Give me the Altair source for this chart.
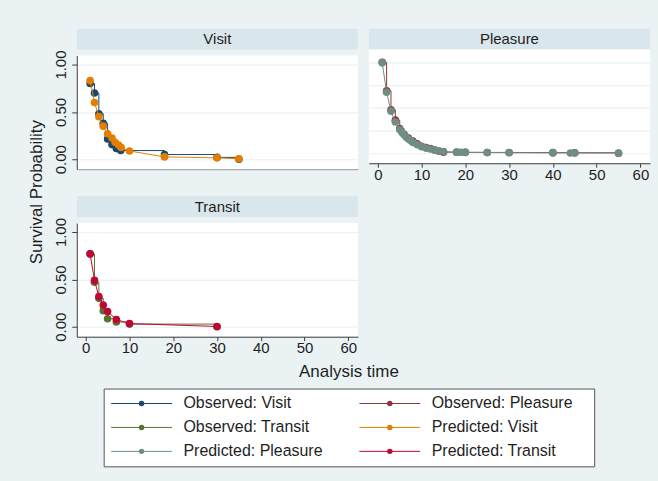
import altair as alt
import pandas as pd

# Survival curves by trip purpose: Kaplan-Meier (observed) vs model (predicted)
visit_obs_t = [1, 2, 3, 4, 5, 6, 7, 8, 18, 30, 35]
visit_obs_s = [0.80, 0.70, 0.48, 0.38, 0.215, 0.155, 0.115, 0.092, 0.05, 0.02, 0.0]
visit_pred_t = [1, 2, 3, 4, 5, 6, 6.7, 7.5, 8.1, 10, 18, 30, 35]
visit_pred_s = [0.83, 0.60, 0.45, 0.35, 0.27, 0.225, 0.18, 0.15, 0.125, 0.088, 0.025, 0.015, 0.005]

pleasure_obs_t = [1, 2, 3, 4, 5, 6, 7, 8, 9, 10, 11, 12, 13, 14, 15, 18, 20, 25, 30, 40, 45, 55]
pleasure_obs_s = [0.96, 0.66, 0.46, 0.35, 0.26, 0.20, 0.16, 0.13, 0.10, 0.075, 0.06, 0.05,
                  0.035, 0.022, 0.012, 0.011, 0.01, 0.009, 0.008, 0.007, 0.006, 0.0]
pleasure_pred_t = [1, 2, 3, 4, 5, 5.5, 6, 6.5, 7, 7.5, 8, 9, 10, 11, 12, 13, 14, 15,
                   18, 19, 20, 25, 30, 40, 44, 45, 55]
pleasure_pred_s = [0.955, 0.645, 0.445, 0.33, 0.25, 0.22, 0.195, 0.17, 0.15, 0.135, 0.115,
                   0.09, 0.07, 0.055, 0.045, 0.035, 0.025, 0.018, 0.012, 0.011, 0.01,
                   0.008, 0.006, 0.004, 0.003, 0.003, 0.002]

transit_obs_t = [1, 2, 3, 4, 5, 7, 10, 30]
transit_obs_s = [0.77, 0.47, 0.30, 0.17, 0.085, 0.05, 0.028, 0.0]
transit_pred_t = [1, 2, 3, 4, 5, 7, 10, 30]
transit_pred_s = [0.77, 0.49, 0.32, 0.23, 0.16, 0.076, 0.034, 0.003]

x_ticks = [0, 10, 20, 30, 40, 50, 60]
y_ticks = [0.0, 0.5, 1.0]
pleasure_grid = [0.0, 0.24, 0.48, 0.72, 0.96]

legend_labels = ["Observed: Visit", "Observed: Pleasure", "Observed: Transit",
                 "Predicted: Visit", "Predicted: Pleasure", "Predicted: Transit"]
legend_colors = ["#1a476f", "#90353b", "#55752f", "#e37e00", "#6e8e84", "#c10534"]
legend_col = [0, 1, 0, 1, 0, 1]
legend_row = [0, 0, 1, 1, 2, 2]

BG = "#EAF2F3"
STRIP = "#D9E6EB"
INK = "#1e1e1e"
AXIS = "#3c3c3c"
FONT = "Liberation Sans"
PW, PH, SH = 282, 114, 21

x_scale = alt.Scale(domain=[-2.05, 62.2], nice=False, zero=False)
y_scale = alt.Scale(domain=[-0.105, 1.095], nice=False, zero=False)


def x_axis(show_labels):
    if show_labels:
        return alt.Axis(values=x_ticks, format="d", title=None, grid=False,
                        labelFontSize=15, labelColor=INK, labelPadding=0,
                        tickSize=4, tickColor=AXIS, domainColor=AXIS, labelFont=FONT)
    return alt.Axis(values=x_ticks, title=None, grid=False, labels=False,
                    ticks=False, domainColor="#9a9a9a")


def y_axis(show_labels):
    if show_labels:
        return alt.Axis(values=y_ticks, format=".2f", title=None, grid=True,
                        gridColor=BG, gridWidth=1.2, labelAngle=270,
                        labelAlign="center", labelBaseline="bottom",
                        labelFontSize=15, labelColor=INK, labelPadding=3,
                        tickSize=5, tickColor=AXIS, domainColor=AXIS, labelFont=FONT)
    return alt.Axis(values=pleasure_grid, title=None, grid=True, gridColor=BG,
                    gridWidth=1.2, labels=False, ticks=False, domain=False)


def panel(name, obs_t, obs_s, pred_t, pred_s, obs_color, pred_color,
          show_y, show_x):
    obs = pd.DataFrame({"t": obs_t, "s": obs_s})
    pred = pd.DataFrame({"t": pred_t, "s": pred_s})
    x = alt.X("t:Q", scale=x_scale, axis=x_axis(show_x))
    y = alt.Y("s:Q", scale=y_scale, axis=y_axis(show_y))
    obs_line = alt.Chart(obs).mark_line(interpolate="step-after", color=obs_color,
                                        strokeWidth=1).encode(x=x, y=y)
    obs_pts = alt.Chart(obs).mark_circle(size=58, color=obs_color,
                                         opacity=1).encode(x=x, y=y)
    pred_line = alt.Chart(pred).mark_line(color=pred_color,
                                          strokeWidth=1).encode(x=x, y=y)
    pred_pts = alt.Chart(pred).mark_circle(size=58, color=pred_color,
                                           opacity=1).encode(x=x, y=y)
    plot = alt.layer(obs_line, obs_pts, pred_line, pred_pts).properties(
        width=PW, height=PH,
        view=alt.ViewBackground(fill="white", strokeWidth=0))
    strip = alt.Chart(pd.DataFrame({"label": [name]})).mark_text(
        fontSize=15, color=INK, font=FONT, baseline="middle").encode(
        text="label:N").properties(
        width=PW, height=SH, view=alt.ViewBackground(fill=STRIP, strokeWidth=0))
    return alt.vconcat(strip, plot, spacing=0)


visit = panel("Visit", visit_obs_t, visit_obs_s, visit_pred_t, visit_pred_s,
              legend_colors[0], legend_colors[3], True, False)
pleasure = panel("Pleasure", pleasure_obs_t, pleasure_obs_s, pleasure_pred_t,
                 pleasure_pred_s, legend_colors[1], legend_colors[4], False, True)
transit = panel("Transit", transit_obs_t, transit_obs_s, transit_pred_t,
                transit_pred_s, legend_colors[2], legend_colors[5], True, True)

panels = alt.vconcat(
    alt.hconcat(visit, pleasure, spacing=11),
    transit,
    spacing=14,
).properties(title=alt.TitleParams(
    "Survival Probability", orient="left", anchor="middle", fontSize=17,
    fontWeight="normal", color=INK, font=FONT, offset=8))

# Legend key: one short line with a dot, then the series name
leg = pd.DataFrame({"label": legend_labels, "color": legend_colors,
                    "col": legend_col, "row": legend_row})
LW, LH = 492, 78
lx = alt.Scale(domain=[-38 / 249, 454 / 249], nice=False, zero=False)
ly = alt.Scale(domain=[-0.625, 2.625], nice=False, zero=False, reverse=True)
col_enc = alt.Color("label:N", scale=alt.Scale(domain=legend_labels,
                                               range=legend_colors), legend=None)
base = alt.Chart(leg)
key_line = base.mark_rule(strokeWidth=1).encode(
    x=alt.X("lo:Q", scale=lx, axis=None), x2="hi:Q",
    y=alt.Y("row:Q", scale=ly, axis=None), color=col_enc
).transform_calculate(lo="datum.col - 0.1225", hi="datum.col + 0.1225")
key_dot = base.mark_circle(size=30, opacity=1).encode(
    x=alt.X("col:Q", scale=lx, axis=None),
    y=alt.Y("row:Q", scale=ly, axis=None), color=col_enc)
key_text = base.mark_text(align="left", baseline="middle", dx=42, fontSize=16,
                          color=INK, font=FONT).encode(
    x=alt.X("col:Q", scale=lx, axis=None),
    y=alt.Y("row:Q", scale=ly, axis=None), text="label:N")
legend_box = alt.layer(key_line, key_dot, key_text).properties(
    width=LW, height=LH,
    view=alt.ViewBackground(fill="white", stroke="#555555", strokeWidth=1),
    title=alt.TitleParams("Analysis time", orient="top", anchor="middle",
                          fontSize=17, fontWeight="normal", color=INK,
                          font=FONT, offset=8))

spacer = alt.Chart(pd.DataFrame({"v": [""]})).mark_text().encode(
    text="v:N").properties(width=16, height=LH,
                           view=alt.ViewBackground(strokeWidth=0))

chart = alt.vconcat(
    panels,
    alt.hconcat(spacer, legend_box, spacing=10),
    spacing=6,
).properties(
    padding={"left": 27, "top": 28, "right": 8, "bottom": 15},
).configure(background=BG, font=FONT).configure_view(strokeWidth=0)

chart.save("out.html", embed_options={"renderer": "svg", "actions": False})
